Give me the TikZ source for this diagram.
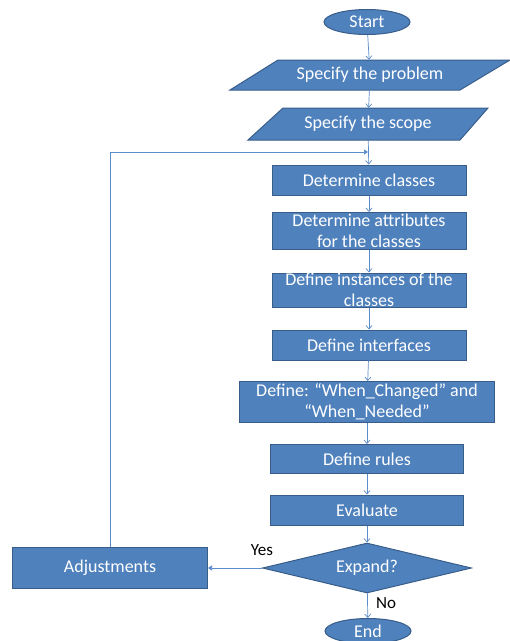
\documentclass[tikz,border=0pt]{standalone}
\usepackage{fontspec}
\setmainfont{Carlito}
\usetikzlibrary{shapes.geometric,arrows.meta}

\definecolor{boxblue}{HTML}{4F81BD}
\definecolor{boxedge}{HTML}{385D8A}
\definecolor{linkblue}{HTML}{5B8BC9}

\begin{document}
\begin{tikzpicture}[
    x=1pt,y=-1pt,
    every node/.style={font=\fontsize{18}{21}\selectfont},
    shaped/.style={draw=boxedge, fill=boxblue, line width=1pt, text=white, inner sep=0pt, align=center},
    stepbox/.style={shaped, rectangle, minimum width=194pt},
    terminal/.style={shaped, ellipse, minimum width=86pt, minimum height=25pt},
    inout/.style={text=white, inner sep=0pt, rectangle, minimum height=#1},
    decision/.style={shaped, diamond, aspect=4.2, minimum width=209pt, minimum height=50pt},
    flow/.style={-{Straight Barb[length=3.5pt,width=6pt]}, draw=linkblue, line width=0.7pt},
    back/.style={-{Triangle[length=4pt,width=5pt]}, draw=linkblue, line width=0.7pt},
    answer/.style={text=black, font=\fontsize{17}{20}\selectfont}
]
    \useasboundingbox (0,0) rectangle (510,641);

    % the two input shapes
    \draw[shaped] (230,90) -- (278,60) -- (510,60) -- (460,90) -- cycle;
    \draw[shaped] (248,140) -- (283,108) -- (488,108) -- (460,140) -- cycle;

    \node[terminal] (start) at (367,22) {Start};
    \node[inout=30pt] (problem) at (370,75) {Specify the problem};
    \node[inout=32pt] (scope) at (368,124) {Specify the scope};
    \node[stepbox, minimum height=30pt] (classes) at (369,180) {Determine classes};
    \node[stepbox, minimum height=37pt] (attrs) at (369,231) {Determine attributes\\for the classes};
    \node[stepbox, minimum height=34pt] (inst) at (369,290) {Define instances of the\\classes};
    \node[stepbox, minimum height=30pt] (iface) at (369,345) {Define interfaces};
    \node[stepbox, minimum width=255pt, minimum height=41pt] (when) at (367,402) {Define: “When\_Changed” and\\“When\_Needed”};
    \node[stepbox, minimum width=193pt, minimum height=29pt] (rules) at (367,459) {Define rules};
    \node[stepbox, minimum width=193pt, minimum height=30pt] (eval) at (367,510) {Evaluate};
    \node[decision] (expand) at (367,568) {Expand?};
    \node[stepbox, minimum width=195pt, minimum height=41pt] (adjust) at (110,568) {Adjustments};
    \node[terminal] (finish) at (368,631) {End};

    \node[answer] (yes) at (262,550) {Yes};
    \node[answer] (no) at (386,603) {No};

    % main column
    \draw[flow] (start) -- (problem);
    \draw[flow] (problem) -- (scope);
    \draw[flow] (scope) -- (classes);
    \draw[flow] (classes) -- (attrs);
    \draw[flow] (attrs) -- (inst);
    \draw[flow] (inst) -- (iface);
    \draw[flow] (iface) -- (when);
    \draw[flow] (when) -- (rules);
    \draw[flow] (rules) -- (eval);
    \draw[flow] (eval) -- (expand);
    \draw[flow] (expand) -- (finish);

    % loop back
    \coordinate (merge) at (368,152);
    \draw[back] (expand) -- (adjust);
    \draw[back] (adjust.north) |- (merge);
\end{tikzpicture}
\end{document}
